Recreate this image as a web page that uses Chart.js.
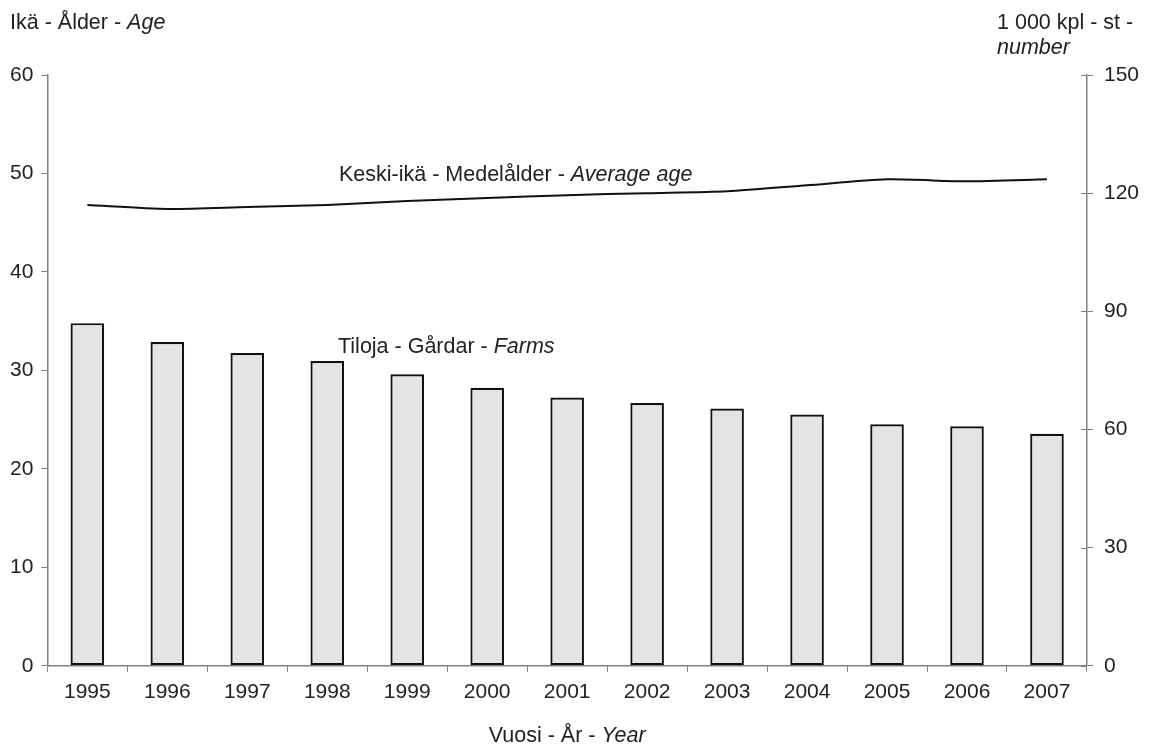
<!DOCTYPE html>
<html>
<head>
<meta charset="utf-8">
<script src="https://cdn.jsdelivr.net/npm/chart.js@4/dist/chart.umd.min.js"></script>
<style>
  html, body { margin: 0; padding: 0; background: #fff; }
  #wrap { width: 1150px; height: 748px; }
</style>
</head>
<body>
<div id="wrap"><canvas id="farmChart"></canvas></div>
<script>
// ---- data ----
const years = ["1995", "1996", "1997", "1998", "1999", "2000", "2001",
               "2002", "2003", "2004", "2005", "2006", "2007"];
// Tiloja - Gårdar - Farms (1 000 kpl)
const farms = [87.0, 82.2, 79.4, 77.4, 74.0, 70.6, 68.1, 66.7, 65.3, 63.8, 61.3, 60.8, 58.9];
// Keski-ikä - Medelålder - Average age
const avgAge = [46.8, 46.4, 46.6, 46.8, 47.2, 47.5, 47.8, 48.0, 48.2, 48.8, 49.4, 49.2, 49.4];

const ageTicks = { min: 0, max: 60, step: 10 };
const farmTicks = { min: 0, max: 150, step: 30 };

const FONT = '"Liberation Sans", Arial, sans-serif';
const TEXT = "#222";
const AXIS = "#808080";

// text pieces: [text, italic]
const labels = [
  { x: 10, y: 23, parts: [["Ikä - Ålder - ", false], ["Age", true]] },
  { x: 997, y: 23, parts: [["1 000 kpl - st -", false]] },
  { x: 997, y: 48, parts: [["number", true]] },
  { x: 339, y: 175, parts: [["Keski-ikä - Medelålder - ", false], ["Average age", true]] },
  { x: 338, y: 347, parts: [["Tiloja - Gårdar - ", false], ["Farms", true]] },
  { center: true, y: 736, parts: [["Vuosi - År - ", false], ["Year", true]] }
];

const textPlugin = {
  id: "texts",
  afterDraw(chart) {
    const ctx = chart.ctx;
    ctx.save();
    ctx.fillStyle = TEXT;
    ctx.textBaseline = "middle";
    ctx.textAlign = "left";
    labels.forEach(l => {
      const fonts = l.parts.map(p => (p[1] ? "italic " : "") + "21.5px " + FONT);
      let total = 0;
      l.parts.forEach((p, i) => { ctx.font = fonts[i]; total += ctx.measureText(p[0]).width; });
      let x = l.center ? (chart.chartArea.left + chart.chartArea.right) / 2 - total / 2 : l.x;
      l.parts.forEach((p, i) => {
        ctx.font = fonts[i];
        ctx.fillText(p[0], x, l.y);
        x += ctx.measureText(p[0]).width;
      });
    });
    // right axis ticks also cross into the plot
    const y1 = chart.scales.y1;
    ctx.strokeStyle = AXIS;
    ctx.lineWidth = 1;
    y1.ticks.forEach(t => {
      const py = Math.round(y1.getPixelForValue(t.value)) + 0.5;
      ctx.beginPath();
      ctx.moveTo(chart.chartArea.right - 6, py);
      ctx.lineTo(chart.chartArea.right, py);
      ctx.stroke();
    });
    ctx.restore();
  }
};

new Chart(document.getElementById("farmChart"), {
  data: {
    labels: years,
    datasets: [
      {
        type: "line",
        label: "Keski-ikä",
        data: avgAge,
        yAxisID: "y",
        borderColor: "#111",
        borderWidth: 2,
        pointRadius: 0,
        tension: 0.25,
        order: 0
      },
      {
        type: "bar",
        label: "Tiloja",
        data: farms,
        yAxisID: "y1",
        backgroundColor: "#e4e4e4",
        borderColor: "#111",
        borderWidth: 2.2,
        borderSkipped: false,
        categoryPercentage: 1,
        barPercentage: 0.42,
        order: 1
      }
    ]
  },
  options: {
    responsive: true,
    maintainAspectRatio: false,
    animation: false,
    layout: { padding: { left: 2, right: 0, top: 75, bottom: 35 } },
    plugins: { legend: { display: false }, tooltip: { enabled: false } },
    scales: {
      x: {
        offset: true,
        grid: { offset: true, drawOnChartArea: false, drawTicks: true, tickLength: 6, color: AXIS },
        border: { color: AXIS, width: 1.5 },
        ticks: { color: TEXT, padding: 8, font: { family: FONT, size: 21 }, maxRotation: 0 }
      },
      y: {
        position: "left",
        min: ageTicks.min, max: ageTicks.max,
        grid: { drawOnChartArea: false, tickLength: 6, color: AXIS },
        border: { color: AXIS, width: 1.5 },
        ticks: { stepSize: ageTicks.step, color: TEXT, padding: 8, font: { family: FONT, size: 21 } }
      },
      y1: {
        position: "right",
        min: farmTicks.min, max: farmTicks.max,
        grid: { drawOnChartArea: false, tickLength: 6, color: AXIS },
        border: { color: AXIS, width: 1.5 },
        ticks: { stepSize: farmTicks.step, color: TEXT, padding: 11, font: { family: FONT, size: 21 } }
      }
    }
  },
  plugins: [textPlugin]
});
</script>
</body>
</html>
